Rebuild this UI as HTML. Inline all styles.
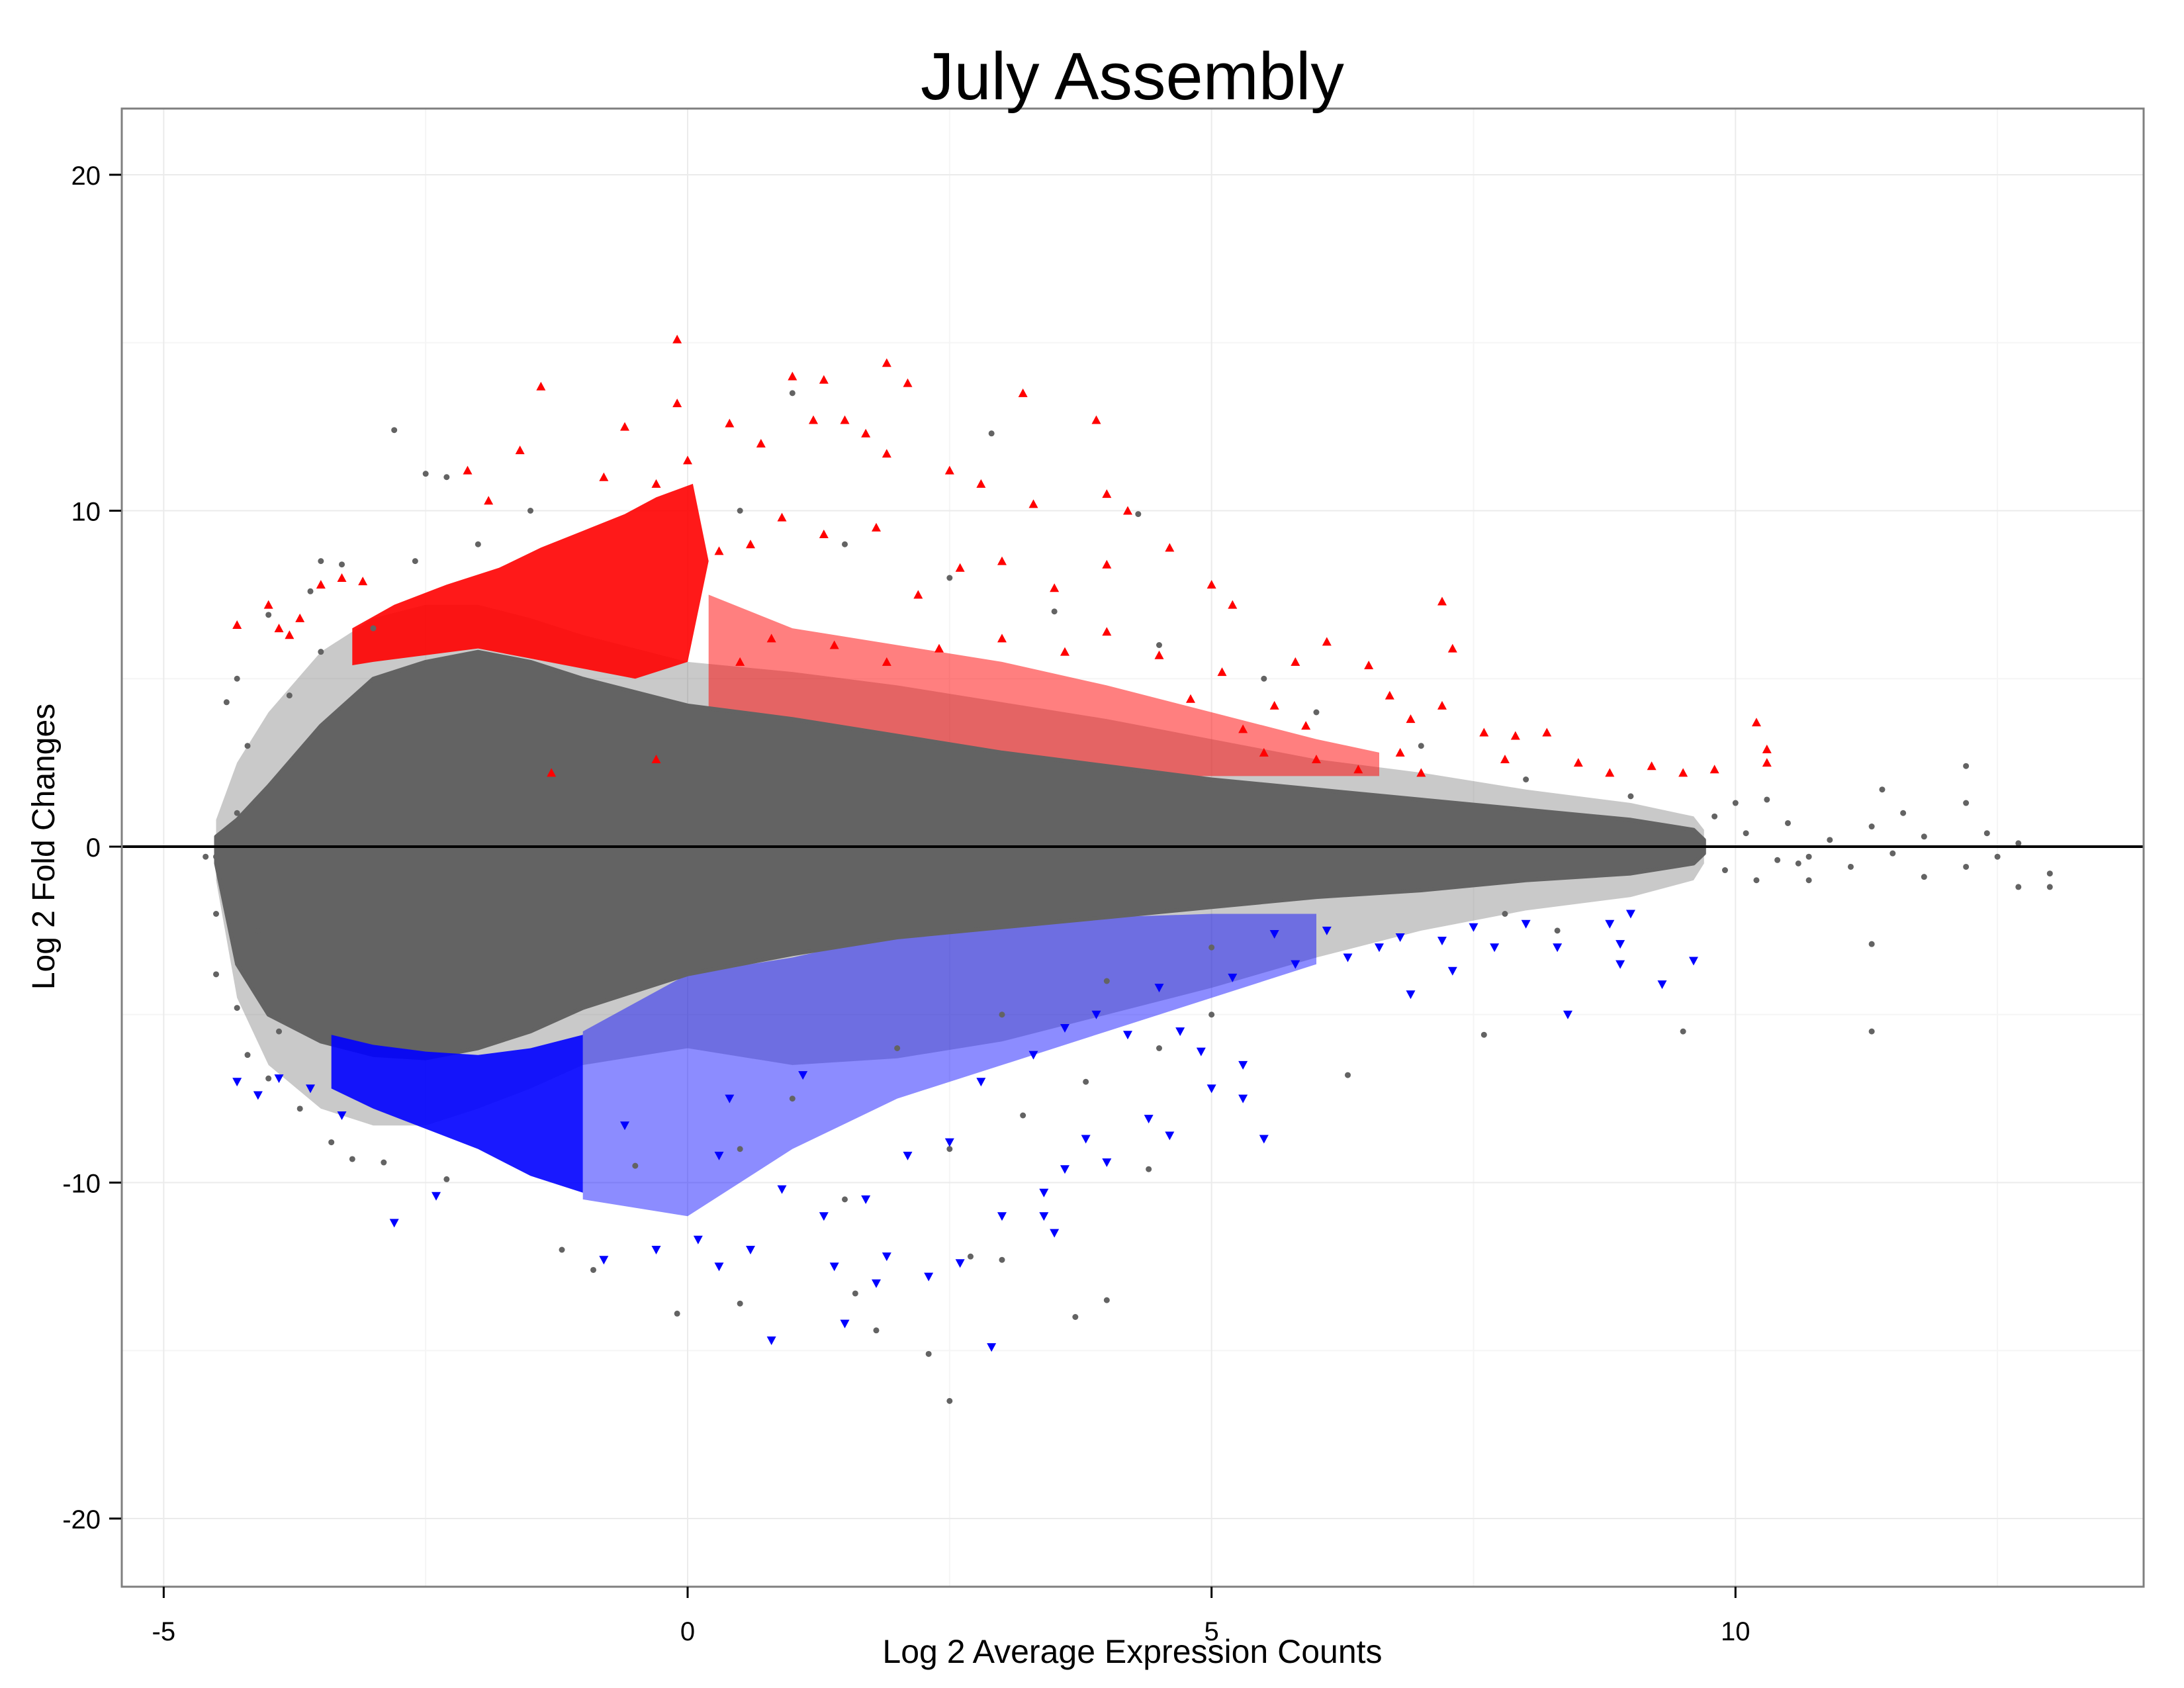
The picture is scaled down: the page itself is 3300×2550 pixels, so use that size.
<!DOCTYPE html>
<html><head><meta charset="utf-8"><title>July Assembly</title>
<style>
html,body{margin:0;padding:0;background:#fff;}
svg{display:block;font-family:"Liberation Sans",Arial,sans-serif;}
</style></head>
<body>
<svg id="chart" width="3300" height="2550" viewBox="0 0 3300 2550" xmlns="http://www.w3.org/2000/svg">
  <rect x="0" y="0" width="3300" height="2550" fill="#ffffff"/>
  <g id="grid"></g>
  <g id="areas"></g>
  <g id="points"></g>
  <line x1="183" x2="3240" y1="1279" y2="1279" stroke="#000" stroke-width="4"/>
  <rect x="184" y="164" width="3055" height="2233" fill="none" stroke="#7f7f7f" stroke-width="3"/>
  <g id="axes"></g>
  <text x="1711" y="150" font-size="101" text-anchor="middle" fill="#000">July Assembly</text>
  <text x="1711" y="2512" font-size="50" text-anchor="middle" fill="#000">Log 2 Average Expression Counts</text>
  <text x="0" y="0" font-size="48" text-anchor="middle" fill="#000" transform="translate(82,1279) rotate(-90)">Log 2 Fold Changes</text>
</svg>
<script>
// ---- data ----
const xTicks = [-5, 0, 5, 10];
const yTicks = [-20, -10, 0, 10, 20];
const xMinor = [-2.5, 2.5, 7.5, 12.5];
const yMinor = [-15, -5, 5, 15];
// grey cloud envelope
const cloudX = [-4.5, -4.3, -4.0, -3.5, -3.0, -2.5, -2.0, -1.5, -1.0, 0, 1, 2, 3, 4, 5, 6, 7, 8, 9, 9.6, 9.7];
const cloudUpper = [0.3, 0.8, 1.8, 3.6, 5.0, 5.5, 5.8, 5.5, 5.0, 4.2, 3.8, 3.3, 2.8, 2.4, 2.0, 1.7, 1.4, 1.1, 0.8, 0.5, 0.2];
const cloudLower = [-0.5, -3.5, -5.0, -5.8, -6.2, -6.3, -6.0, -5.5, -4.8, -3.8, -3.2, -2.7, -2.4, -2.1, -1.8, -1.5, -1.3, -1.0, -0.8, -0.5, -0.2];
// sparse grey halo envelope
const haloUpper = [0.8, 2.5, 4.0, 5.8, 6.8, 7.2, 7.2, 6.8, 6.3, 5.5, 5.2, 4.8, 4.3, 3.8, 3.2, 2.6, 2.2, 1.7, 1.3, 0.9, 0.5];
const haloLower = [-1.0, -4.5, -6.5, -7.8, -8.3, -8.3, -7.8, -7.2, -6.5, -6.0, -6.5, -6.3, -5.8, -5.0, -4.2, -3.3, -2.5, -1.9, -1.5, -1.0, -0.5];
// red dense region
const redDenseX = [-3.2, -2.8, -2.3, -1.8, -1.4, -1.0, -0.6, -0.3, 0.05, 0.2, 0.0, -0.5, -1.0, -1.5, -2.0, -2.5, -3.0, -3.2];
const redDenseY = [6.5, 7.2, 7.8, 8.3, 8.9, 9.4, 9.9, 10.4, 10.8, 8.5, 5.5, 5.0, 5.3, 5.6, 5.9, 5.7, 5.5, 5.4];
const redBandX = [0.2, 1.0, 2.0, 3.0, 4.0, 5.0, 6.0, 6.6, 6.6, 6.0, 5.0, 4.0, 3.0, 2.0, 1.0, 0.2];
const redBandY = [7.5, 6.5, 6.0, 5.5, 4.8, 4.0, 3.2, 2.8, 2.1, 2.1, 2.1, 2.1, 2.1, 2.2, 2.5, 3.5];
// blue dense region
const blueDenseX = [-3.4, -3.0, -2.5, -2.0, -1.5, -1.0, -1.0, -1.5, -2.0, -2.5, -3.0, -3.4];
const blueDenseY = [-5.6, -5.9, -6.1, -6.2, -6.0, -5.6, -10.3, -9.8, -9.0, -8.4, -7.8, -7.2];
const blueBandX = [-1, 0, 1, 2, 3, 4, 5, 6, 6, 5, 4, 3, 2, 1, 0, -1];
const blueBandY = [-5.5, -3.8, -3.3, -2.6, -2.3, -2.1, -2.0, -2.0, -3.5, -4.5, -5.5, -6.5, -7.5, -9, -11, -10.5];
// red up-regulated points
const redX = [-0.1,1.9,1.0,1.3,2.1,3.2,-1.4,-0.1,1.5,1.2,0.4,3.9,1.7,-0.6,-1.6,-2.1,0.7,1.9,2.5,3.3,2.8,4.0,4.2,4.6,5.0,5.2,4.0,3.5,2.6,3.0,1.8,1.3,0.9,0.6,0.3,2.2,-1.9,-0.8,0.0,-0.3,-4.3,-4.0,-3.9,-3.7,-3.5,-3.3,-3.8,-3.1,7.2,7.3,6.1,5.8,6.5,6.7,7.2,6.9,7.6,7.9,8.2,8.5,8.8,9.2,9.5,9.8,10.2,10.3,10.3,7.8,7.0,6.8,6.4,6.0,5.5,5.9,5.3,5.6,4.8,5.1,4.5,4.0,3.6,3.0,2.4,1.9,1.4,0.8,0.5,-1.3,-0.3];
const redY = [15.1,14.4,14.0,13.9,13.8,13.5,13.7,13.2,12.7,12.7,12.6,12.7,12.3,12.5,11.8,11.2,12.0,11.7,11.2,10.2,10.8,10.5,10.0,8.9,7.8,7.2,8.4,7.7,8.3,8.5,9.5,9.3,9.8,9.0,8.8,7.5,10.3,11.0,11.5,10.8,6.6,7.2,6.5,6.8,7.8,8.0,6.3,7.9,7.3,5.9,6.1,5.5,5.4,4.5,4.2,3.8,3.4,3.3,3.4,2.5,2.2,2.4,2.2,2.3,3.7,2.9,2.5,2.6,2.2,2.8,2.3,2.6,2.8,3.6,3.5,4.2,4.4,5.2,5.7,6.4,5.8,6.2,5.9,5.5,6.0,6.2,5.5,2.2,2.6];
// blue down-regulated points
const blueX = [0.8,1.5,2.9,1.8,1.9,1.4,2.3,2.6,3.0,3.4,3.4,3.5,3.6,3.8,4.0,4.4,4.6,5.0,5.3,5.5,5.3,4.9,4.7,4.2,3.9,3.6,3.3,2.8,2.5,2.1,1.7,1.3,0.9,0.6,0.3,0.1,-0.3,-0.8,-2.8,-2.4,-4.3,-4.1,-3.9,-3.6,-3.3,5.8,6.3,6.6,6.8,7.2,7.5,7.7,8.0,8.3,8.4,8.8,8.9,8.9,9.0,9.3,9.6,6.1,6.9,5.6,5.2,4.5,7.3,-0.6,0.4,1.1,0.3];
const blueY = [-14.7,-14.2,-14.9,-13.0,-12.2,-12.5,-12.8,-12.4,-11.0,-11.0,-10.3,-11.5,-9.6,-8.7,-9.4,-8.1,-8.6,-7.2,-7.5,-8.7,-6.5,-6.1,-5.5,-5.6,-5.0,-5.4,-6.2,-7.0,-8.8,-9.2,-10.5,-11.0,-10.2,-12.0,-12.5,-11.7,-12.0,-12.3,-11.2,-10.4,-7.0,-7.4,-6.9,-7.2,-8.0,-3.5,-3.3,-3.0,-2.7,-2.8,-2.4,-3.0,-2.3,-3.0,-5.0,-2.3,-2.9,-3.5,-2.0,-4.1,-3.4,-2.5,-4.4,-2.6,-3.9,-4.2,-3.7,-8.3,-7.5,-6.8,-9.2];
// grey non-significant outliers
const greyX = [-2.8,-2.5,-2.3,1.0,2.9,4.3,-3.5,-3.3,-3.6,-4.0,-4.3,-4.4,-4.2,-4.6,-4.5,-4.5,-4.5,-4.3,-4.2,-4.0,-3.7,-3.4,-3.2,-2.9,-2.3,-1.2,-0.9,-0.1,0.5,1.6,1.8,2.3,2.5,2.7,3.0,3.7,4.0,4.4,6.3,7.6,9.5,11.3,11.3,12.2,12.2,12.7,13.0,13.0,12.7,12.2,11.8,11.8,11.5,11.3,11.1,10.9,10.7,10.7,10.5,10.4,10.3,10.1,9.9,11.6,11.4,10.6,12.5,12.4,10.0,9.8,10.2,8.3,7.8,5.0,4.5,3.8,3.2,2.5,1.5,0.5,-0.5,1.0,2.0,3.0,6.0,5.5,4.5,3.5,2.5,1.5,0.5,7.0,8.0,9.0,4.0,5.0,-3.9,-4.1,-4.3,-3.8,-3.5,-3.0,-2.0,-1.5,-2.6];
const greyY = [12.4,11.1,11.0,13.5,12.3,9.9,8.5,8.4,7.6,6.9,5.0,4.3,3.0,-0.3,-0.3,-2.0,-3.8,-4.8,-6.2,-6.9,-7.8,-8.8,-9.3,-9.4,-9.9,-12.0,-12.6,-13.9,-13.6,-13.3,-14.4,-15.1,-16.5,-12.2,-12.3,-14.0,-13.5,-9.6,-6.8,-5.6,-5.5,-5.5,-2.9,2.4,1.3,0.1,-0.8,-1.2,-1.2,-0.6,-0.9,0.3,-0.2,0.6,-0.6,0.2,-0.3,-1.0,0.7,-0.4,1.4,0.4,-0.7,1.0,1.7,-0.5,-0.3,0.4,1.3,0.9,-1.0,-2.5,-2.0,-5.0,-6.0,-7.0,-8.0,-9.0,-10.5,-9.0,-9.5,-7.5,-6.0,-5.0,4.0,5.0,6.0,7.0,8.0,9.0,10.0,3.0,2.0,1.5,-4.0,-3.0,-5.5,-2.5,1.0,4.5,5.8,6.5,9.0,10.0,8.5];

// ---- scales ----
const NS = 'http://www.w3.org/2000/svg';
function xs(v){ return 1039 + v * 158.33; }
function ys(v){ return 1279 - v * 50.75; }
function mk(tag, parent){ const e = document.createElementNS(NS, tag); parent.appendChild(e); return e; }
function polyPts(xa, ya){ return xa.map((x,i)=>xs(x).toFixed(1)+','+ys(ya[i]).toFixed(1)).join(' '); }

const grid = document.getElementById('grid');
xMinor.forEach(v=>{
  const l = mk('line', grid);
  
  
  l.setAttribute('x1', xs(v)); l.setAttribute('x2', xs(v)); l.setAttribute('y1', 164); l.setAttribute('y2', 2397);
  l.setAttribute('stroke', '#f5f5f5'); l.setAttribute('stroke-width', 2);
});
yMinor.forEach(v=>{
  const l = mk('line', grid);
  
  
  l.setAttribute('x1', 184); l.setAttribute('x2', 3239); l.setAttribute('y1', ys(v)); l.setAttribute('y2', ys(v));
  l.setAttribute('stroke', '#f5f5f5'); l.setAttribute('stroke-width', 2);
});
xTicks.forEach(v=>{
  const l = mk('line', grid);
  
  
  l.setAttribute('x1', xs(v)); l.setAttribute('x2', xs(v)); l.setAttribute('y1', 164); l.setAttribute('y2', 2397);
  l.setAttribute('stroke', '#ebebeb'); l.setAttribute('stroke-width', 2);
});
yTicks.forEach(v=>{
  const l = mk('line', grid);
  
  
  l.setAttribute('x1', 184); l.setAttribute('x2', 3239); l.setAttribute('y1', ys(v)); l.setAttribute('y2', ys(v));
  l.setAttribute('stroke', '#ebebeb'); l.setAttribute('stroke-width', 2);
});

const areas = document.getElementById('areas');
const halo = mk('polygon', areas);


halo.setAttribute('points', polyPts(cloudX.concat(cloudX.slice().reverse()), haloUpper.concat(haloLower.slice().reverse())));
halo.setAttribute('fill', '#636363'); halo.setAttribute('fill-opacity', '0.35');

const rb = mk('polygon', areas);


rb.setAttribute('points', polyPts(redBandX, redBandY));
rb.setAttribute('fill', '#ff0000'); rb.setAttribute('fill-opacity', '0.5');

const bb = mk('polygon', areas);


bb.setAttribute('points', polyPts(blueBandX, blueBandY));
bb.setAttribute('fill', '#0000ff'); bb.setAttribute('fill-opacity', '0.45');

const cloud = mk('polygon', areas);


cloud.setAttribute('points', polyPts(cloudX.concat(cloudX.slice().reverse()), cloudUpper.concat(cloudLower.slice().reverse())));
cloud.setAttribute('fill', '#636363'); cloud.setAttribute('stroke', '#636363'); cloud.setAttribute('stroke-width', 6); cloud.setAttribute('stroke-linejoin', 'round');

const rd = mk('polygon', areas);


rd.setAttribute('points', polyPts(redDenseX, redDenseY));
rd.setAttribute('fill', '#ff0000'); rd.setAttribute('fill-opacity', '0.9');

const bd = mk('polygon', areas);


bd.setAttribute('points', polyPts(blueDenseX, blueDenseY));
bd.setAttribute('fill', '#0000ff'); bd.setAttribute('fill-opacity', '0.9');

const pts = document.getElementById('points');
greyX.forEach((x,i)=>{
  const c = mk('circle', pts);
  
  
  c.setAttribute('cx', xs(x)); c.setAttribute('cy', ys(greyY[i])); c.setAttribute('r', 4.5);
  c.setAttribute('fill', '#636363');
});
redX.forEach((x,i)=>{
  const cx = xs(x), cy = ys(redY[i]);
  const t = mk('polygon', pts);
  
  
  t.setAttribute('points', cx+','+(cy-7)+' '+(cx-7)+','+(cy+6)+' '+(cx+7)+','+(cy+6));
  t.setAttribute('fill', '#ff0000');
});
blueX.forEach((x,i)=>{
  const cx = xs(x), cy = ys(blueY[i]);
  const t = mk('polygon', pts);
  
  
  t.setAttribute('points', cx+','+(cy+7)+' '+(cx-7)+','+(cy-6)+' '+(cx+7)+','+(cy-6));
  t.setAttribute('fill', '#0000ff');
});

const axes = document.getElementById('axes');
xTicks.forEach(v=>{
  const l = mk('line', axes);
  
  
  l.setAttribute('x1', xs(v)); l.setAttribute('x2', xs(v)); l.setAttribute('y1', 2397); l.setAttribute('y2', 2414);
  l.setAttribute('stroke', '#000'); l.setAttribute('stroke-width', 3);
  const t = mk('text', axes);
  
  
  t.setAttribute('x', xs(v)); t.setAttribute('y', 2478); t.setAttribute('font-size', 40);
  t.setAttribute('text-anchor', 'middle'); t.setAttribute('fill', '#000');
  t.textContent = String(v);
});
yTicks.forEach(v=>{
  const l = mk('line', axes);
  
  
  l.setAttribute('x1', 165); l.setAttribute('x2', 183); l.setAttribute('y1', ys(v)); l.setAttribute('y2', ys(v));
  l.setAttribute('stroke', '#000'); l.setAttribute('stroke-width', 3);
  const t = mk('text', axes);
  
  
  t.setAttribute('x', 152); t.setAttribute('y', ys(v) + 15); t.setAttribute('font-size', 40);
  t.setAttribute('text-anchor', 'end'); t.setAttribute('fill', '#000');
  t.textContent = String(v);
});
</script>
</body></html>
